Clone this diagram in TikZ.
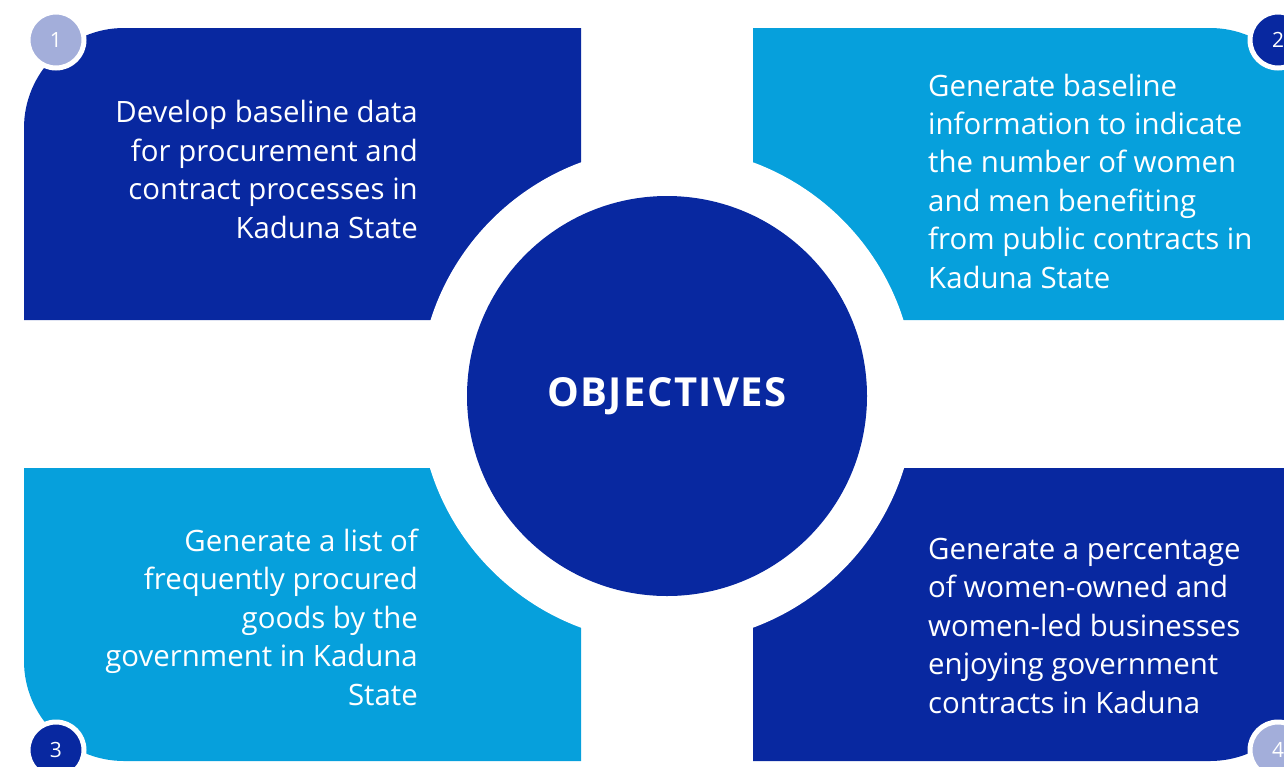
\documentclass[tikz,border=0pt]{standalone}
\usepackage{fontspec}
\setmainfont{Open Sans}
\definecolor{navy}{RGB}{8,40,160}
\definecolor{sky}{RGB}{6,160,220}
\definecolor{lavender}{RGB}{163,174,218}
\begin{document}
\begin{tikzpicture}[x=1pt,y=-1pt,
  panel/.style={inner sep=0pt,text=white,font=\fontsize{29.4}{38.4}\selectfont},
  badge/.style={circle,minimum size=56pt,inner sep=0pt,draw=white,line width=5pt,
                text=white,font=\fontsize{21}{24}\selectfont},
  hub/.style={circle,minimum size=400pt,inner sep=0pt,fill=navy,text=white,
              font=\fontsize{40}{44}\selectfont\bfseries\addfontfeature{LetterSpace=3.5}}]
\useasboundingbox (0,0) rectangle (1284,766);

% four quadrant panels, each with one rounded outer corner
\fill[navy] (24,320) [rounded corners=100pt] -- (24,28) [sharp corners] -- (581,28) -- (581,320) -- cycle;
\fill[sky]  (753,320) -- (753,28) [rounded corners=100pt] -- (1310,28) [sharp corners] -- (1310,320) -- cycle;
\fill[sky]  (24,468) [rounded corners=100pt] -- (24,761) [sharp corners] -- (581,761) -- (581,468) -- cycle;
\fill[navy] (753,468) -- (753,761) [rounded corners=100pt] -- (1310,761) [sharp corners] -- (1310,468) -- cycle;

% white gap around the central disc
\fill[white] (667,395) circle[radius=248pt];

% central disc
\node[hub] (hub) at (667,396) {OBJECTIVES};

% panel texts (base anchor sits on the last line)
\node[panel,align=right,anchor=base east] (t1) at (418,238)
  {Develop baseline data\\for procurement and\\contract processes in\\Kaduna State};
\node[panel,align=left,anchor=base west] (t2) at (928,288)
  {Generate baseline\\information to indicate\\the number of women\\and men benefiting\\from public contracts in\\Kaduna State};
\node[panel,align=right,anchor=base east] (t3) at (418,705)
  {Generate a list of\\frequently procured\\goods by the\\government in Kaduna\\State};
\node[panel,align=left,anchor=base west] (t4) at (928,713)
  {Generate a percentage\\of women-owned and\\women-led businesses\\enjoying government\\contracts in Kaduna};

% numbered badges on the outer corners
\node[badge,fill=lavender] (b1) at (56,40) {1};
\node[badge,fill=navy] (b2) at (1278,40) {2};
\node[badge,fill=navy] (b3) at (56,750) {3};
\node[badge,fill=lavender] (b4) at (1278,750) {4};
\end{tikzpicture}
\end{document}
